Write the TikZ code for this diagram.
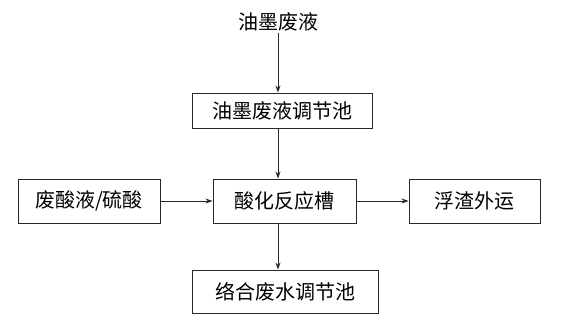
\documentclass[tikz,border=0pt]{standalone}
\usepackage{fontspec}
\setmainfont{Noto Sans CJK SC}
\usetikzlibrary{arrows.meta}
\definecolor{LineGray}{RGB}{40,40,40}

\begin{document}
\begin{tikzpicture}[x=1pt, y=-1pt,
          pbx/.style={rectangle, draw=LineGray, line width=0.9pt,
                      minimum height=44pt, inner sep=0pt,
                      font=\fontsize{20}{24}\selectfont},
          arr/.style={-{Stealth[length=7pt, width=5pt]}, draw=LineGray,
                      line width=0.9pt}
        ]
        \useasboundingbox (0,0) rectangle (562,333);

        % source
        \node[font=\fontsize{20}{24}\selectfont, inner sep=2pt]
              (src) at (278, 22) {油墨废液};

        % column of basins
        \node[pbx, minimum width=180pt, minimum height=35pt]
              (pool1) at (282, 110.5) {油墨废液调节池};
        \node[pbx, minimum width=143pt]
              (react) at (284.5, 201) {酸化反应槽};
        \node[pbx, minimum width=186pt, minimum height=43pt]
              (pool2) at (285, 291.5) {络合废水调节池};

        % side boxes
        \node[pbx, minimum width=142pt]
              (acid) at (89, 201) {废酸液/硫酸};
        \node[pbx, minimum width=131pt]
              (slag) at (474.5, 201) {浮渣外运};

        % main flow
        \draw[arr] (src.south) -- (src |- pool1.north);
        \draw[arr] (src |- pool1.south) -- (src |- react.north);
        \draw[arr] (src |- react.south) -- (src |- pool2.north);
        % acid dosing and slag removal
        \draw[arr] (acid) -- (react);
        \draw[arr] (react) -- (slag);
      \end{tikzpicture}
\end{document}
